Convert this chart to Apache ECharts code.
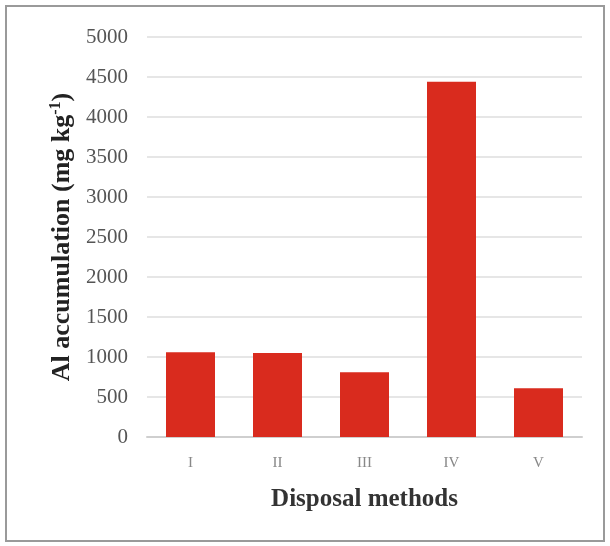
<!DOCTYPE html>
<html>
<head>
<meta charset="utf-8">
<style>
  html, body { margin: 0; padding: 0; background: #fff; }
  #chart { width: 610px; height: 546px; }
</style>
<script src="https://cdn.jsdelivr.net/npm/echarts@6/dist/echarts.min.js"></script>
</head>
<body>
<div id="chart"></div>
<script>
// Al accumulation by disposal method
const methods = ['I', 'II', 'III', 'IV', 'V'];
const alAccumulation = [1060, 1050, 810, 4440, 610];
const yTicks = { min: 0, max: 5000, interval: 500 };

const chart = echarts.init(document.getElementById('chart'));
const serif = '"Liberation Serif", "DejaVu Serif", serif';

chart.setOption({
  animation: false,
  backgroundColor: '#ffffff',
  graphic: [{
    type: 'rect',
    shape: { x: 6, y: 6, width: 598, height: 535 },
    style: { fill: 'none', stroke: '#9a9a9a', lineWidth: 2 }
  }],
  grid: { left: 147, right: 28, top: 37, bottom: 109 },
  xAxis: {
    type: 'category',
    data: methods,
    name: 'Disposal methods',
    nameLocation: 'middle',
    nameGap: 50,
    nameTextStyle: { fontFamily: serif, fontSize: 25, fontWeight: 'bold', color: '#333' },
    axisLine: { show: true, lineStyle: { color: '#cfcfcf', width: 2 } },
    axisTick: { show: false },
    axisLabel: { fontFamily: serif, fontSize: 15, color: '#888', margin: 19 }
  },
  yAxis: {
    type: 'value',
    min: yTicks.min,
    max: yTicks.max,
    interval: yTicks.interval,
    name: 'Al accumulation (mg kg{sup|-1})',
    nameLocation: 'middle',
    nameGap: 69,
    nameRotate: 90,
    nameTextStyle: {
      fontFamily: serif, fontSize: 26, fontWeight: 'bold', color: '#222',
      rich: {
        sup: { fontFamily: serif, fontSize: 16, fontWeight: 'bold', color: '#222', verticalAlign: 'top', padding: [0, 0, 12, 0] }
      }
    },
    axisLine: { show: false },
    axisTick: { show: false },
    axisLabel: {
      fontFamily: serif, fontSize: 21, color: '#555', margin: 19,
      formatter: (v) => String(v)
    },
    splitLine: { lineStyle: { color: '#e6e6e6', width: 2 } }
  },
  series: [{
    type: 'bar',
    data: alAccumulation,
    barWidth: 49,
    itemStyle: { color: '#d92b1e' }
  }]
});
</script>
</body>
</html>
